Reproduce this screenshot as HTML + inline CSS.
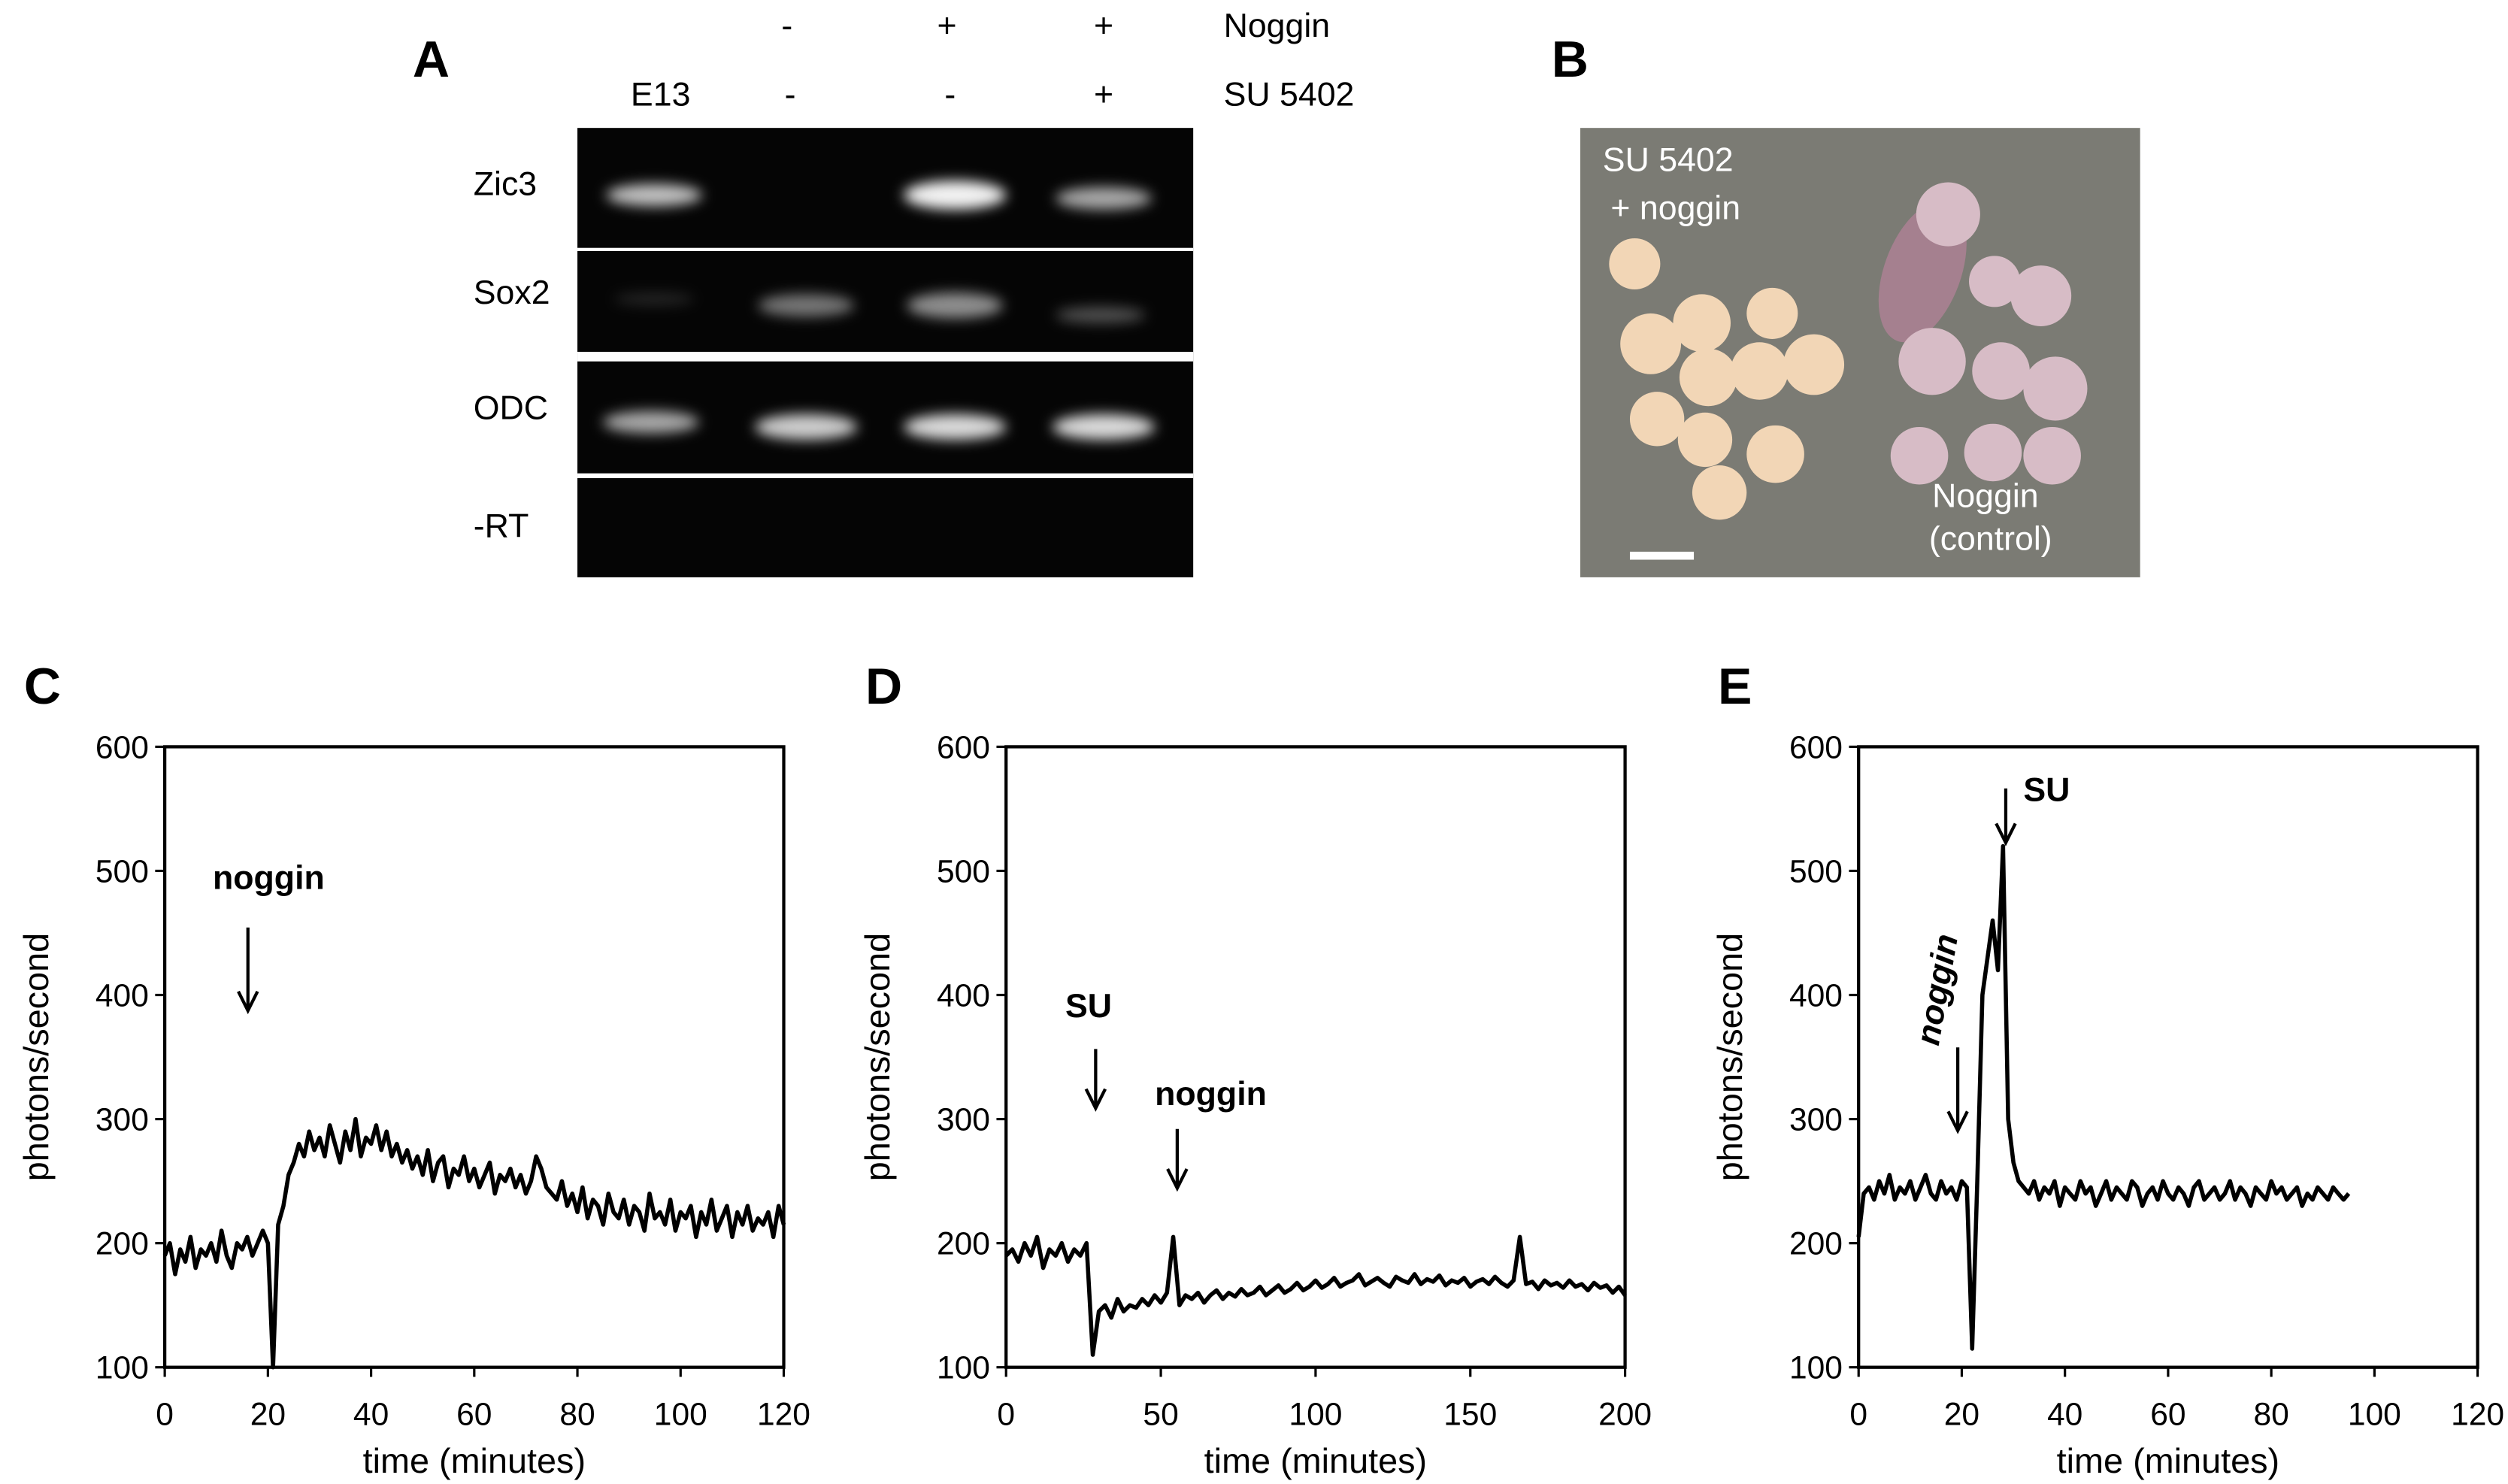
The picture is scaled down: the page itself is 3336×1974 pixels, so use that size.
<!DOCTYPE html>
<html><head><meta charset="utf-8"><style>
html,body{margin:0;padding:0;background:#fff}
svg{display:block}
text{font-family:"Liberation Sans",sans-serif}
</style></head><body>
<svg id="fig" width="3336" height="1974" viewBox="0 0 1568 928" preserveAspectRatio="none" xmlns="http://www.w3.org/2000/svg">
<g>
<text x="258" y="48" font-size="32" font-weight="bold">A</text>
<g font-size="21" fill="#000">
<text x="492" y="23" text-anchor="middle">-</text><text x="592" y="23" text-anchor="middle">+</text><text x="690" y="23" text-anchor="middle">+</text>
<text x="765" y="23">Noggin</text>
<text x="413" y="66" text-anchor="middle">E13</text><text x="494" y="66" text-anchor="middle">-</text><text x="594" y="66" text-anchor="middle">-</text><text x="690" y="66" text-anchor="middle">+</text>
<text x="765" y="66">SU 5402</text>
<text x="296" y="122">Zic3</text><text x="296" y="190">Sox2</text><text x="296" y="262">ODC</text><text x="296" y="336">-RT</text>
</g>
<defs><filter id="bl"><feGaussianBlur stdDeviation="4"/></filter></defs>
<rect x="361" y="80" width="385" height="281" fill="#050505"/>
<g fill="#fff" filter="url(#bl)">
<ellipse cx="409" cy="122" rx="30" ry="7" opacity="0.75"/><ellipse cx="597" cy="122" rx="32" ry="9" opacity="0.95"/><ellipse cx="690" cy="124" rx="30" ry="7" opacity="0.65"/>
<ellipse cx="504" cy="191" rx="30" ry="7" opacity="0.45"/><ellipse cx="597" cy="191" rx="30" ry="8" opacity="0.55"/><ellipse cx="688" cy="197" rx="28" ry="5" opacity="0.3"/><ellipse cx="409" cy="187" rx="25" ry="4" opacity="0.12"/>
<ellipse cx="407" cy="264" rx="30" ry="7" opacity="0.65"/><ellipse cx="504" cy="267" rx="32" ry="8" opacity="0.8"/><ellipse cx="597" cy="267" rx="32" ry="8" opacity="0.85"/><ellipse cx="690" cy="267" rx="32" ry="8" opacity="0.85"/>
</g>
<rect x="361" y="155" width="385" height="2" fill="#fff"/><rect x="361" y="220" width="385" height="6" fill="#fff"/><rect x="361" y="296" width="385" height="3" fill="#fff"/>
</g>
<g>
<text x="970" y="48" font-size="32" font-weight="bold">B</text>
<rect x="988" y="80" width="350" height="281" fill="#7b7b74"/>
<g fill="#f2d6b6">
<circle cx="1022" cy="165" r="16"/><circle cx="1032" cy="215" r="19"/><circle cx="1064" cy="202" r="18"/><circle cx="1108" cy="196" r="16"/><circle cx="1100" cy="232" r="18"/><circle cx="1068" cy="236" r="18"/><circle cx="1134" cy="228" r="19"/><circle cx="1036" cy="262" r="17"/><circle cx="1066" cy="275" r="17"/><circle cx="1110" cy="284" r="18"/><circle cx="1075" cy="308" r="17"/>
</g>
<g fill="#d7bcc6">
<ellipse cx="1202" cy="170" rx="24" ry="46" transform="rotate(20 1202 170)" fill="#a5808f"/><circle cx="1218" cy="134" r="20"/><circle cx="1247" cy="176" r="16"/><circle cx="1276" cy="185" r="19"/><circle cx="1208" cy="226" r="21"/><circle cx="1251" cy="232" r="18"/><circle cx="1285" cy="243" r="20"/><circle cx="1200" cy="285" r="18"/><circle cx="1246" cy="283" r="18"/><circle cx="1283" cy="285" r="18"/>
</g>
<g fill="#fff" font-size="21">
<text x="1002" y="107">SU 5402</text><text x="1007" y="137">+ noggin</text>
<text x="1208" y="317">Noggin</text><text x="1206" y="344">(control)</text>
</g>
<rect x="1019" y="345" width="40" height="5" fill="#fff"/>
</g>
<g id="charts"></g>
</svg>
<script>
const cValues=[190,200,175,195,185,205,180,195,190,200,185,210,190,180,200,195,205,190,200,210,200,100,215,230,255,265,280,270,290,275,285,270,295,280,265,290,275,300,270,285,280,295,275,290,270,280,265,275,260,270,255,275,250,265,270,245,260,255,270,250,260,245,255,265,240,255,250,260,245,255,240,250,270,260,245,240,235,250,230,240,225,245,220,235,230,215,240,225,220,235,215,230,225,210,240,220,225,215,235,210,225,220,230,205,225,215,235,210,220,230,205,225,215,230,210,220,215,225,205,230,215];
const dValues=[190,195,185,200,190,205,180,195,190,200,185,195,190,200,110,145,150,140,155,145,150,148,155,150,158,152,160,205,150,158,155,160,152,158,162,155,160,157,163,158,160,165,158,162,166,160,163,168,162,165,170,164,167,172,165,168,170,175,166,169,172,168,165,173,170,168,175,167,171,169,174,166,170,168,172,165,169,171,167,173,168,165,170,205,167,169,163,170,166,168,164,170,165,167,162,168,164,166,160,165,158];
const eValues=[205,240,245,235,250,240,255,235,245,240,250,235,245,255,240,235,250,240,245,235,250,245,115,250,400,430,460,420,520,300,265,250,245,240,250,235,245,240,250,230,245,240,235,250,240,245,230,240,250,235,245,240,235,250,245,230,240,245,235,250,240,235,245,240,230,245,250,235,240,245,235,240,250,235,245,240,230,245,240,235,250,240,245,235,240,245,230,240,235,245,240,235,245,240,235,240];
const cStep=1, dStep=2, eStep=1;
const yTicks=[100,200,300,400,500,600];
const cXTicks=[0,20,40,60,80,100,120];
const dXTicks=[0,50,100,150,200];
const eXTicks=[0,20,40,60,80,100,120];
const NS='http://www.w3.org/2000/svg';
const root=document.getElementById('charts');
function mk(tag,attrs,parent,txt){const e=document.createElementNS(NS,tag);for(const k in attrs)e.setAttribute(k,attrs[k]);if(txt!==undefined)e.textContent=txt;parent.appendChild(e);return e;}
function chart(id,label,x0,xmax,vals,step,xt){
  const L=x0,R=x0+387,T=467,B=855;
  const sx=v=>L+(v/xmax)*(R-L), sy=v=>B-(v-100)/500*(B-T);
  const g=mk('g',{},root);
  
  
  const lb=mk('text',{x:L-88,y:440,'font-size':32,'font-weight':'bold'},g,label);
  
  
  yTicks.forEach(t=>{mk('line',{x1:L-6,x2:L,y1:sy(t),y2:sy(t),stroke:'#000','stroke-width':1.5},g);
    const tl=mk('text',{x:L-10,y:sy(t)+7,'font-size':20,'text-anchor':'end'},g,t);
    
    });
  xt.forEach(t=>{mk('line',{x1:sx(t),x2:sx(t),y1:B,y2:B+6,stroke:'#000','stroke-width':1.5},g);
    const tl=mk('text',{x:sx(t),y:B+36,'font-size':20,'text-anchor':'middle'},g,t);
    
    });
  const d=vals.map((v,i)=>(i?'L':'M')+sx(i*step).toFixed(1)+' '+sy(v).toFixed(1)).join(' ');
  const p=mk('path',{d:d,fill:'none',stroke:'#000','stroke-width':2.6,'stroke-linejoin':'round'},g);
  
  
  const fr=mk('rect',{x:L,y:T,width:R-L,height:B-T,fill:'none',stroke:'#000','stroke-width':2},g);
  
  
  const xt2=mk('text',{x:(L+R)/2,y:921,'font-size':22,'text-anchor':'middle'},g,'time (minutes)');
  
  
  const yt=mk('text',{x:0,y:0,'font-size':22,'text-anchor':'middle',transform:`translate(${L-73},661) rotate(-90)`},g,'photons/second');
  
  
  return g;
}
function arrow(g,x,y1,y2){mk('line',{x1:x,x2:x,y1:y1,y2:y2-2,stroke:'#000','stroke-width':2},g);
  mk('path',{d:`M${x-6} ${y2-12} L${x} ${y2} L${x+6} ${y2-12}`,fill:'none',stroke:'#000','stroke-width':2},g);}
const gc=chart('c','C',103,120,cValues,cStep,cXTicks);
const a1=mk('text',{x:133,y:556,'font-size':21,'font-weight':'bold'},gc,'noggin');


arrow(gc,155,580,632);
const gd=chart('d','D',629,200,dValues,dStep,dXTicks);
const a2=mk('text',{x:666,y:636,'font-size':21,'font-weight':'bold'},gd,'SU');


arrow(gd,685,656,693);
const a3=mk('text',{x:722,y:691,'font-size':21,'font-weight':'bold'},gd,'noggin');


arrow(gd,736,706,743);
const ge=chart('e','E',1162,120,eValues,eStep,eXTicks);
const a4=mk('text',{x:0,y:0,'font-size':21,'font-weight':'bold','font-style':'italic','text-anchor':'middle',transform:'translate(1218,620) rotate(-80)'},ge,'noggin');


arrow(ge,1224,655,707);
const a5=mk('text',{x:1265,y:501,'font-size':21,'font-weight':'bold'},ge,'SU');


arrow(ge,1254,493,527);
</script>
</body></html>
